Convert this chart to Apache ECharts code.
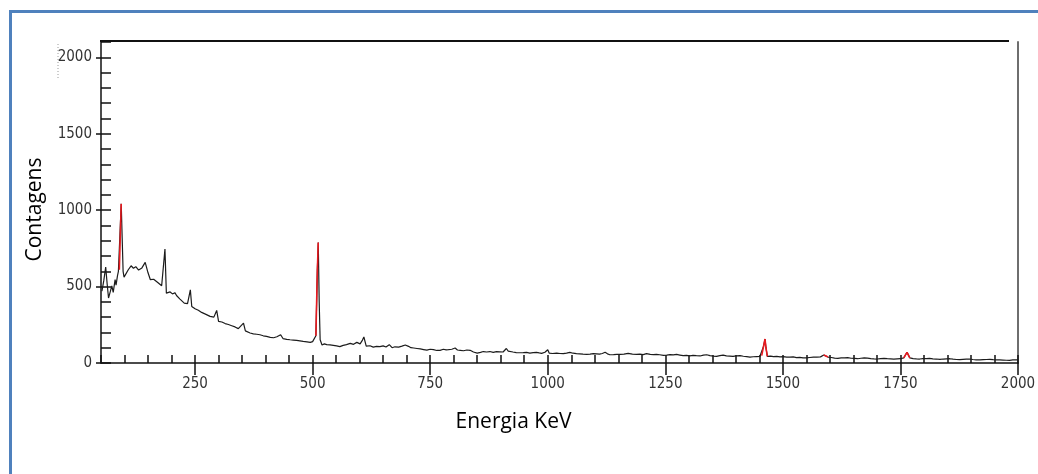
<!DOCTYPE html>
<html>
<head>
<meta charset="utf-8">
<title>Espectro gama</title>
<script src="https://cdn.jsdelivr.net/npm/echarts@6/dist/echarts.min.js"></script>
<style>
  html, body { margin: 0; padding: 0; background: #ffffff; overflow: hidden; }
  #chart { width: 1038px; height: 474px; }
</style>
</head>
<body>
<div id="chart"></div>
<script>
// Gamma spectrum: energy (keV) and counts per channel
const energy = [
  52, 56, 60, 63, 66, 70, 73, 76, 80, 82, 85, 87, 89, 93, 97, 99,
  103, 108, 114, 119, 124, 130, 137, 144, 150, 155, 162, 166, 172, 179, 183, 186,
  189, 193, 197, 202, 207, 211, 218, 222, 227, 234, 240, 243, 250, 257, 264, 272,
  282, 290, 296, 300, 307, 314, 321, 328, 335, 342, 346, 353, 357, 360, 367, 374,
  381, 388, 395, 402, 406, 410, 417, 424, 432, 437, 445, 452, 459, 466, 473, 480,
  488, 495, 500, 504, 507, 510, 512, 514, 516, 520, 525, 530, 537, 544, 551, 558,
  565, 572, 580, 587, 594, 601, 606, 609, 614, 622, 629, 636, 643, 650, 656, 663,
  669, 675, 683, 690, 697, 704, 709, 715, 722, 729, 736, 743, 750, 757, 764, 771,
  778, 784, 789, 796, 803, 808, 814, 821, 828, 835, 842, 850, 857, 863, 870, 877,
  884, 891, 898, 905, 912, 916, 919, 926, 933, 941, 948, 955, 962, 969, 976, 982,
  987, 994, 1000, 1003, 1010, 1019, 1026, 1033, 1040, 1047, 1054, 1061, 1068, 1075, 1083, 1090,
  1097, 1104, 1110, 1116, 1122, 1127, 1132, 1140, 1147, 1154, 1162, 1171, 1180, 1189, 1196, 1203,
  1210, 1218, 1225, 1231, 1238, 1246, 1253, 1260, 1267, 1274, 1281, 1288, 1295, 1302, 1309, 1316,
  1324, 1331, 1338, 1345, 1352, 1359, 1366, 1373, 1380, 1387, 1394, 1401, 1409, 1416, 1423, 1430,
  1437, 1444, 1451, 1455, 1459, 1462, 1464, 1467, 1474, 1480, 1487, 1494, 1501, 1508, 1515, 1522,
  1529, 1536, 1543, 1550, 1557, 1565, 1572, 1580, 1587, 1591, 1596, 1603, 1610, 1617, 1624, 1631,
  1638, 1645, 1652, 1659, 1666, 1673, 1680, 1687, 1694, 1701, 1708, 1715, 1722, 1729, 1736, 1743,
  1750, 1757, 1764, 1770, 1777, 1784, 1791, 1798, 1805, 1812, 1819, 1826, 1834, 1841, 1848, 1855,
  1862, 1869, 1876, 1883, 1890, 1897, 1904, 1911, 1919, 1926, 1933, 1940, 1947, 1954, 1961, 1968,
  1975, 1982, 1989, 1993, 2000
];

const counts = [
  470, 540, 627, 520, 425, 470, 505, 462, 545, 510, 570, 600, 610, 1041, 600, 562,
  575, 610, 636, 620, 630, 608, 622, 658, 590, 545, 548, 542, 523, 505, 500, 745,
  457, 470, 465, 452, 460, 440, 418, 410, 392, 388, 479, 370, 355, 345, 331, 320,
  305, 300, 344, 272, 268, 258, 252, 244, 236, 225, 229, 261, 210, 200, 196, 191,
  188, 185, 178, 174, 180, 168, 165, 172, 185, 160, 155, 152, 150, 148, 145, 141,
  138, 135, 140, 150, 178, 600, 788, 400, 152, 118, 125, 120, 118, 115, 112, 107,
  115, 120, 128, 122, 135, 125, 150, 170, 110, 113, 104, 109, 107, 112, 105, 120,
  100, 106, 104, 110, 118, 109, 100, 98, 95, 92, 88, 84, 90, 87, 82, 83,
  90, 86, 87, 90, 98, 85, 83, 80, 85, 83, 72, 65, 70, 75, 72, 75,
  70, 74, 73, 72, 95, 78, 70, 72, 68, 67, 68, 70, 65, 68, 70, 66,
  63, 70, 87, 65, 62, 65, 62, 61, 65, 70, 64, 61, 60, 58, 56, 58,
  61, 60, 58, 62, 70, 60, 54, 55, 57, 56, 58, 63, 58, 56, 58, 55,
  61, 57, 55, 56, 54, 50, 52, 55, 53, 56, 52, 48, 50, 47, 50, 48,
  46, 51, 54, 48, 45, 43, 48, 52, 47, 45, 43, 46, 48, 44, 42, 39,
  41, 42, 43, 48, 110, 157, 100, 43, 45, 42, 43, 40, 42, 39, 38, 40,
  35, 37, 34, 33, 36, 38, 39, 40, 52, 62, 39, 36, 32, 30, 33, 34,
  35, 31, 30, 28, 31, 33, 32, 29, 27, 26, 29, 30, 28, 27, 26, 27,
  28, 33, 70, 33, 29, 27, 26, 28, 29, 30, 27, 26, 24, 26, 27, 28,
  25, 23, 22, 24, 25, 26, 23, 21, 20, 22, 23, 24, 22, 21, 20, 19,
  18, 17, 20, 22, 20
];

// Energy windows of the identified photopeaks, drawn in red
const peakWindows = [
  [88, 93],
  [506, 512],
  [1454, 1467],
  [1586, 1596],
  [1756, 1770]
];

const xTickValues = [250, 500, 750, 1000, 1250, 1500, 1750, 2000];
const yTickValues = [0, 500, 1000, 1500, 2000];

const xMin = 50, xMax = 2000;
const yMin = 0, yMax = 2100;

const spectrum = energy.map((e, i) => [e, counts[i]]);
const inPeak = (e) => peakWindows.some(([a, b]) => e >= a && e <= b);
const peakLine = energy.map((e, i) => [e, inPeak(e) ? counts[i] : null]);

const tickFont = '"Liberation Sans Narrow", "Arial Narrow", "DejaVu Sans Condensed", sans-serif';
const titleFont = '"Open Sans", "Noto Sans", sans-serif';
const ink = '#111111';
const plainNumber = (v) => String(v);

const chart = echarts.init(document.getElementById('chart'), null, { renderer: 'canvas' });

chart.setOption({
  animation: false,
  backgroundColor: '#ffffff',
  grid: {
    left: 101,
    right: 20,
    top: 42,
    bottom: 111,
    containLabel: false,
    outerBoundsMode: 'none'
  },
  xAxis: [
    {
      type: 'value',
      min: xMin,
      max: xMax,
      position: 'bottom',
      name: 'Energia KeV',
      nameLocation: 'middle',
      nameGap: 49,
      nameTextStyle: {
        fontFamily: titleFont,
        fontSize: 21,
        color: '#000000',
        padding: [0, 92, 0, 0]
      },
      axisLine: { show: true, onZero: false, lineStyle: { color: ink, width: 1.5 } },
      axisTick: {
        show: true,
        inside: false,
        length: 12,
        customValues: xTickValues,
        lineStyle: { color: ink, width: 1.5 }
      },
      axisLabel: {
        customValues: xTickValues,
        formatter: plainNumber,
        margin: 14,
        fontFamily: tickFont,
        fontSize: 15,
        color: '#333333'
      },
      splitLine: { show: false }
    },
    {
      // minor ticks every 50 keV, pointing into the plot
      type: 'value',
      min: xMin,
      max: xMax,
      interval: 50,
      position: 'bottom',
      axisLine: { show: false },
      axisTick: { show: true, inside: true, length: 8, lineStyle: { color: ink, width: 1.5 } },
      axisLabel: { show: false },
      splitLine: { show: false }
    }
  ],
  yAxis: [
    {
      type: 'value',
      min: yMin,
      max: yMax,
      position: 'left',
      name: 'Contagens',
      nameLocation: 'middle',
      nameGap: 55,
      nameRotate: 90,
      nameTextStyle: {
        fontFamily: titleFont,
        fontSize: 21,
        color: '#000000',
        padding: [0, 14, 0, 0]
      },
      axisLine: { show: true, onZero: false, lineStyle: { color: ink, width: 1.5 } },
      axisTick: {
        show: true,
        inside: false,
        length: 5,
        customValues: yTickValues,
        lineStyle: { color: ink, width: 1.5 }
      },
      axisLabel: {
        customValues: yTickValues,
        formatter: plainNumber,
        margin: 9,
        fontFamily: tickFont,
        fontSize: 15,
        color: '#333333'
      },
      splitLine: { show: false }
    },
    {
      // minor ticks every 100 counts, pointing into the plot
      type: 'value',
      min: yMin,
      max: yMax,
      interval: 100,
      position: 'left',
      axisLine: { show: false },
      axisTick: { show: true, inside: true, length: 10, lineStyle: { color: ink, width: 1.5 } },
      axisLabel: { show: false },
      splitLine: { show: false }
    },
    {
      // right frame edge
      type: 'value',
      min: yMin,
      max: yMax,
      position: 'right',
      axisLine: { show: true, onZero: false, lineStyle: { color: '#6e6e6e', width: 2 } },
      axisTick: { show: false },
      axisLabel: { show: false },
      splitLine: { show: false }
    }
  ],
  graphic: [
    {
      // page frame: top and left edges
      type: 'polyline',
      silent: true,
      z: -1,
      shape: { points: [[10.5, 474], [10.5, 11.5], [1038, 11.5]] },
      style: { fill: null, stroke: '#4f81bd', lineWidth: 3, lineJoin: 'miter' }
    },
    {
      type: 'line',
      silent: true,
      shape: { x1: 100, y1: 41, x2: 1009, y2: 41 },
      style: { stroke: ink, lineWidth: 2 }
    },
    {
      type: 'line',
      silent: true,
      shape: { x1: 58, y1: 44, x2: 58, y2: 79 },
      style: { stroke: '#9a9a9a', lineWidth: 1, lineDash: [1, 2] }
    }
  ],
  series: [
    {
      name: 'Espectro',
      type: 'line',
      xAxisIndex: 0,
      yAxisIndex: 0,
      data: spectrum,
      showSymbol: false,
      symbol: 'none',
      lineStyle: { color: '#1c1c1c', width: 1.2 },
      z: 2
    },
    {
      name: 'Picos',
      type: 'line',
      xAxisIndex: 0,
      yAxisIndex: 0,
      data: peakLine,
      connectNulls: false,
      showSymbol: false,
      symbol: 'none',
      lineStyle: { color: '#e8191f', width: 1.6 },
      z: 3
    }
  ]
});
</script>
</body>
</html>
